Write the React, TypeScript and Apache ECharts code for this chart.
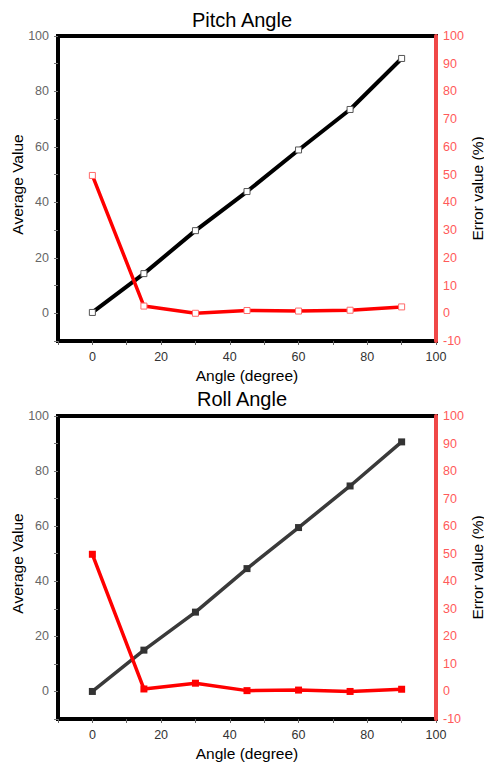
import React, { useEffect, useRef } from "react";
import * as echarts from "echarts";

const angles = [0, 15, 30, 45, 60, 75, 90];
const pitchAverage = [0.3, 14.3, 29.8, 43.9, 58.9, 73.5, 91.9];
const pitchError = [49.7, 2.6, 0, 1.0, 0.8, 1.1, 2.3];
const rollAverage = [0, 15, 28.8, 44.6, 59.5, 74.6, 90.6];
const rollError = [49.8, 0.9, 3.0, 0.3, 0.5, 0, 0.8];
const titles = ["Pitch Angle", "Roll Angle"];
const xName = "Angle (degree)";
const leftName = "Average Value";
const rightName = "Error value (%)";

const FONT = "'Liberation Sans', Arial, sans-serif";

export default function App() {
  const ref = useRef<HTMLDivElement>(null);
  useEffect(() => {
    document.body.style.margin = "0";
    const chart = echarts.init(ref.current!, null, { renderer: "svg" });
    const pair = (xs: number[], ys: number[]) => xs.map((x, i) => [x, ys[i]]);
    const grids = [
      { left: 58, width: 378, top: 36, height: 305 },
      { left: 58, width: 378, top: 416, height: 303 },
    ];
    const xAxes: any[] = [];
    const yAxes: any[] = [];
    const series: any[] = [];
    grids.forEach((_, gi) => {
      xAxes.push({
        type: "value",
        gridIndex: gi,
        min: -10,
        max: 100,
        interval: 10,
        name: xName,
        nameLocation: "middle",
        nameGap: 26,
        nameMoveOverlap: false,
        nameTextStyle: { color: "#000", fontSize: 15.5, fontFamily: FONT },
        axisLine: { show: true, onZero: false, lineStyle: { color: "#000", width: 4 } },
        axisTick: { show: true, length: 4, lineStyle: { color: "#666", width: 1 } },
        axisLabel: {
          color: "#333",
          fontSize: 12.5,
          fontFamily: FONT,
          margin: 9,
          formatter: (v: number) => (v >= 0 && v % 20 === 0 ? String(v) : ""),
        },
        splitLine: { show: false },
      });
      yAxes.push({
        type: "value",
        gridIndex: gi,
        position: "left",
        min: -10,
        max: 100,
        interval: 10,
        name: leftName,
        nameLocation: "middle",
        nameGap: 33,
        nameRotate: 90,
        nameMoveOverlap: false,
        nameTextStyle: { color: "#000", fontSize: 15.5, fontFamily: FONT, padding: [0, 0, 0, 8] },
        axisLine: { show: true, onZero: false, lineStyle: { color: "#000", width: 4 } },
        axisTick: { show: true, length: 4, lineStyle: { color: "#777", width: 1 } },
        axisLabel: {
          color: "#666",
          fontSize: 12.5,
          fontFamily: FONT,
          margin: 9,
          formatter: (v: number) => (v >= 0 && v % 20 === 0 ? String(v) : ""),
        },
        splitLine: { show: false },
      });
      yAxes.push({
        type: "value",
        gridIndex: gi,
        position: "right",
        min: -10,
        max: 100,
        interval: 10,
        name: rightName,
        nameLocation: "middle",
        nameGap: 33,
        nameRotate: 90,
        nameMoveOverlap: false,
        nameTextStyle: { color: "#000", fontSize: 15.5, fontFamily: FONT },
        z: 5,
        axisLine: { show: true, onZero: false, lineStyle: { color: "#f04848", width: 4 } },
        axisTick: { show: false },
        axisLabel: { color: "#ff5a5a", fontSize: 12.5, fontFamily: FONT, margin: 7 },
        splitLine: { show: false },
      });
    });

    const sets = [
      [pitchAverage, pitchError],
      [rollAverage, rollError],
    ];
    sets.forEach(([avg, err], gi) => {
      const hollow = gi === 0;
      const lineBlack = gi === 0 ? "#000" : "#3a3a3a";
      series.push({
        type: "line",
        xAxisIndex: gi,
        yAxisIndex: gi * 2,
        data: pair(angles, avg),
        symbol: "rect",
        symbolSize: gi === 0 ? 6 : 7,
        showSymbol: true,
        lineStyle: { color: lineBlack, width: gi === 0 ? 4 : 3.5 },
        itemStyle: hollow
          ? { color: "#fff", borderColor: "#555", borderWidth: 1 }
          : { color: "#333", borderColor: "#333", borderWidth: 0 },
        z: 2,
      });
      series.push({
        type: "line",
        xAxisIndex: gi,
        yAxisIndex: gi * 2 + 1,
        data: pair(angles, err),
        symbol: "rect",
        symbolSize: gi === 0 ? 6 : 7,
        showSymbol: true,
        lineStyle: { color: "#ff0000", width: 3.5 },
        itemStyle: hollow
          ? { color: "#fff", borderColor: "#ff6a6a", borderWidth: 1 }
          : { color: "#ff0000", borderColor: "#ff0000", borderWidth: 0 },
        z: 3,
      });
    });

    chart.setOption({
      animation: false,
      backgroundColor: "#fff",
      title: [
        {
          text: titles[0],
          left: "center",
          top: 10,
          padding: 0,
          textStyle: { color: "#000", fontSize: 20, fontWeight: "normal", fontFamily: FONT },
        },
        {
          text: titles[1],
          left: "center",
          top: 389,
          padding: 0,
          textStyle: { color: "#000", fontSize: 20, fontWeight: "normal", fontFamily: FONT },
        },
      ],
      grid: grids.map((g) => ({
        ...g,
        show: true,
        borderColor: "#000",
        borderWidth: 4,
        backgroundColor: "transparent",
        containLabel: false,
        outerBoundsMode: "none",
      })),
      xAxis: xAxes,
      yAxis: yAxes,
      series,
    });
    return () => chart.dispose();
  }, []);
  return (
    <div
      ref={ref}
      style={{ position: "absolute", left: 0, top: 0, width: 484, height: 765 }}
    />
  );
}
